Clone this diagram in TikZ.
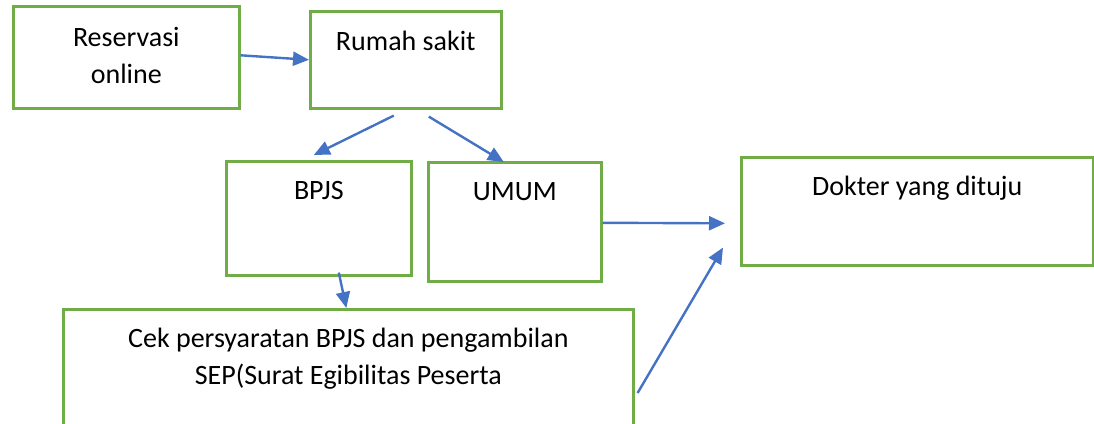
\documentclass[tikz,border=0pt]{standalone}
\usepackage{fontspec}
\setmainfont{Carlito}
\usetikzlibrary{arrows.meta}
\definecolor{boxgreen}{HTML}{70AD47}
\definecolor{arrowblue}{HTML}{4472C4}

\begin{document}
\begin{tikzpicture}[x=1pt, y=-1pt,
      box/.style={draw=boxgreen, line width=2.6pt, rectangle, inner sep=0pt, anchor=north west},
      txt/.style={font=\fontsize{28}{37}\selectfont, align=center, anchor=base, inner sep=0pt},
      arr/.style={draw=arrowblue, line width=2.4pt, -{Triangle[length=16pt,width=14pt]}} ]
          \useasboundingbox (0,0) rectangle (1094,423);
          \clip (0,0) rectangle (1094,423);
          % kotak
          \node[box, minimum width=226pt, minimum height=102pt] (res) at (12,5) {};
          \node[box, minimum width=191pt, minimum height=97pt] (rs) at (309,10) {};
          \node[box, minimum width=185pt, minimum height=114pt] (bpjs) at (225,160) {};
          \node[box, minimum width=173pt, minimum height=119pt] (umum) at (427,161) {};
          \node[box, minimum width=352pt, minimum height=108pt] (dok) at (740,156) {};
          \node[box, minimum width=570pt, minimum height=200pt] (cek) at (62,308) {};
          % teks (base = baris terakhir)
          \node[txt] (restxt) at ([yshift=-78pt]res.north) {Reservasi\\online};
          \node[txt] (rstxt) at ([yshift=-40pt]rs.north) {Rumah sakit};
          \node[txt] (bpjstxt) at ([yshift=-39pt]bpjs.north) {BPJS};
          \node[txt] (umumtxt) at ([yshift=-39pt]umum.north) {UMUM};
          \node[txt] (doktxt) at ([yshift=-39pt]dok.north) {Dokter yang dituju};
          \node[txt] (cektxt) at ([yshift=-76pt]cek.north) {Cek persyaratan BPJS dan pengambilan\\SEP(Surat Egibilitas Peserta};
          % panah
          \draw[arr] ([yshift=2pt]res.east) -- (rs.west);
          \draw[arr] ([xshift=-12pt,yshift=-6pt]rs.south) -- ([xshift=-5pt,yshift=5pt]bpjs.north);
          \draw[arr] ([xshift=23pt,yshift=-7pt]rs.south) -- ([xshift=-11pt,yshift=-1pt]umum.north);
          \draw[arr] ([xshift=20pt,yshift=4pt]bpjs.south) -- ([xshift=-2pt]cek.north);
          \draw[arr] ([yshift=-1pt]umum.east) -- ([xshift=-15pt,yshift=-12pt]dok.west);
          \draw[arr] ([xshift=3pt,yshift=-85pt]cek.north east) -- ([xshift=-17pt,yshift=19pt]dok.south west);
        \end{tikzpicture}
\end{document}
